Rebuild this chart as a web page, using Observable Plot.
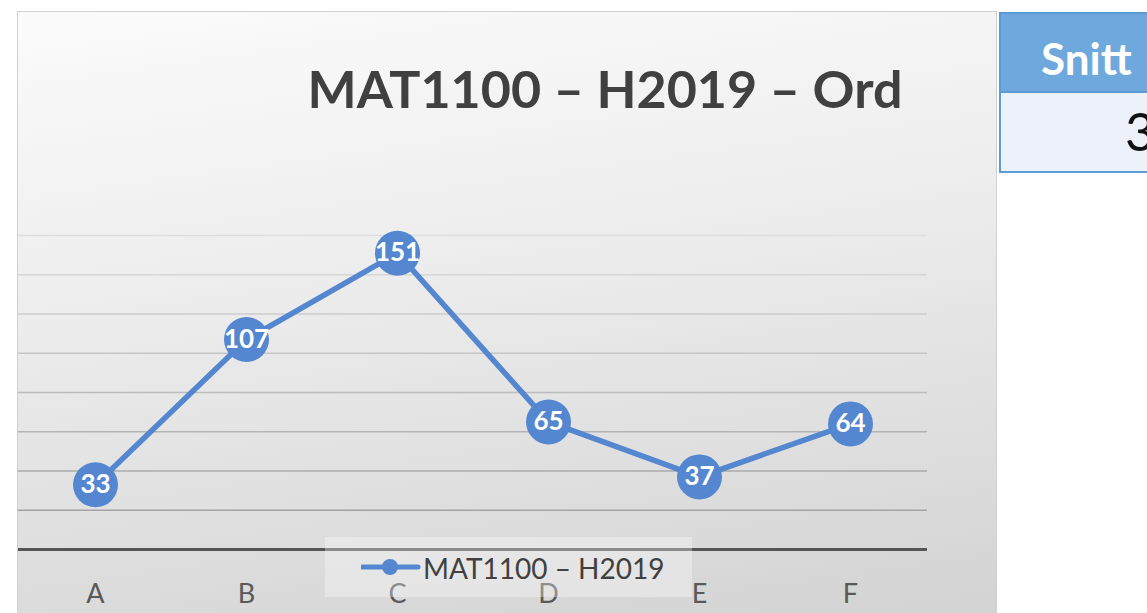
<!DOCTYPE html>
<html><head><meta charset="utf-8">
<script src="https://cdn.jsdelivr.net/npm/d3@7"></script>
<script src="https://cdn.jsdelivr.net/npm/@observablehq/plot@0.6"></script>
<style>
html,body{margin:0;padding:0}
body{width:1147px;height:613px;overflow:hidden;background:#fff;font-family:Lato,"Open Sans",sans-serif;position:relative}
#chartbg{position:absolute;left:17px;top:11px;width:980px;height:620px;border:1.5px solid #d0d0d0;box-sizing:border-box;
 background:linear-gradient(172deg,#fbfbfb 0%,#ededed 40%,#d2d2d2 100%)}
#plot{position:absolute;left:0;top:0}
#title{position:absolute;left:255px;width:700px;top:62px;text-align:center;font-size:52px;line-height:52px;font-weight:700;color:#404040;white-space:nowrap}
#legend{position:absolute;left:325px;top:537px;width:367px;height:60px;background:rgba(255,255,255,0.32)}
#legend svg{position:absolute;left:36px;top:22px}
#legend span{position:absolute;left:98px;top:14px;font-size:28px;line-height:34px;color:#404040;white-space:nowrap}
#thead{position:absolute;left:999px;top:12px;width:170px;height:81px;background:#6fa8dc;border:2px solid #5b9bd5;box-sizing:border-box}
#thead span{position:absolute;left:40px;top:19px;font-size:44px;line-height:50px;font-weight:700;color:#fff}
#tcell{position:absolute;left:999px;top:93px;width:170px;height:80px;background:#edf2fa;border:2px solid #5b9bd5;border-top:none;box-sizing:border-box}
#tcell span{position:absolute;left:124px;top:6px;font-size:52px;line-height:64px;color:#111}
</style></head>
<body>
<div id="chartbg"></div>
<div id="plot"></div>
<div id="title"></div>
<div id="legend"><svg width="60" height="16"><line x1="1" y1="8" x2="57" y2="8" stroke="#5487d0" stroke-width="5" stroke-linecap="round"/><circle cx="29" cy="8" r="8" fill="#5487d0"/></svg><span id="legtext"></span></div>
<div id="thead"><span id="theadtext"></span></div>
<div id="tcell"><span id="tcelltext"></span></div>
<script>
const titleText = "MAT1100 – H2019 – Ord";
const seriesName = "MAT1100 – H2019";
const categories = ["A", "B", "C", "D", "E", "F"];
const values = [33, 107, 151, 65, 37, 64];
const gridValues = [20, 40, 60, 80, 100, 120, 140, 160];
const tableHeader = "Snitt";
const tableValue = "3";

document.getElementById("title").textContent = titleText;
document.getElementById("legtext").textContent = seriesName;
document.getElementById("theadtext").textContent = tableHeader;
document.getElementById("tcelltext").textContent = tableValue;

const data = categories.map((c, i) => ({grade: c, count: values[i]}));
const lineColor = "#5487d0";
const gridColor = d3.interpolateRgb("#a3a3a3", "#dedede");

const chart = Plot.plot({
  width: 1147, height: 613,
  marginLeft: 18, marginRight: 220, marginTop: 235, marginBottom: 64,
  style: {background: "transparent", fontFamily: "Lato, sans-serif", overflow: "visible"},
  x: {type: "point", domain: categories, padding: 0.5, label: null},
  y: {domain: [0, 160], axis: null},
  marks: [
    Plot.ruleY(gridValues, {stroke: d => gridColor((d - 20) / 140), strokeWidth: 1.6}),
    Plot.ruleY([0], {stroke: "#555555", strokeWidth: 3}),
    Plot.line(data, {x: "grade", y: "count", stroke: lineColor, strokeWidth: 5.5}),
    Plot.dot(data, {x: "grade", y: "count", r: 22.5, fill: lineColor, stroke: "none"}),
    Plot.text(data, {x: "grade", y: "count", text: d => String(d.count), fill: "white", fontWeight: "bold", fontSize: 26}),
    Plot.axisX({tickSize: 0, tickPadding: 34, fontSize: 27, color: "#595959", label: null})
  ]
});
document.getElementById("plot").appendChild(chart);
</script>
</body></html>
